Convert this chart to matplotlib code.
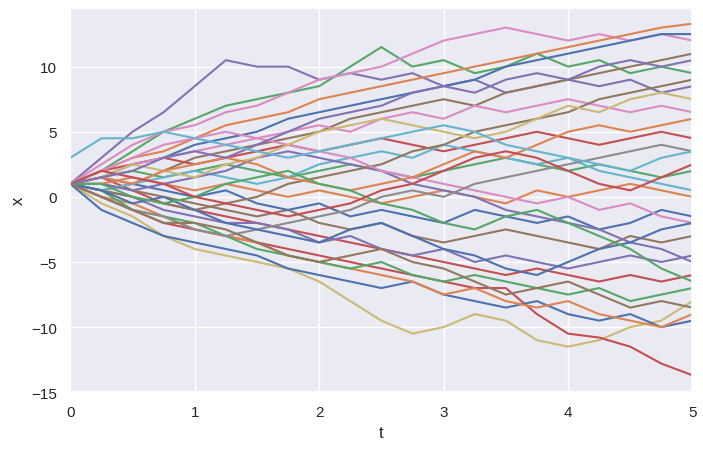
import numpy as np
import matplotlib
matplotlib.use("Agg")
import matplotlib.pyplot as plt
import seaborn as sns

# sample times (every 0.25 from 0 to 5)
t = [i * 0.25 for i in range(21)]

# paths (outer ones traced, inner ones estimated)
paths = [
    [1, 3, 5, 6.5, 8.5, 10.5, 10, 10, 9, 9.5, 9, 9.5, 8.5, 9, 8, 8.5, 9, 8.5, 9, 8, 8.5],
    [1, 2, 3.5, 5, 6, 7, 7.5, 8, 8.5, 10, 11.5, 10, 10.5, 9.5, 10, 11, 10, 10.5, 9.5, 10, 9.5],
    [1, 2.5, 4, 5, 5.5, 6.5, 7, 8, 9, 9.5, 10, 11, 12, 12.5, 13, 12.5, 12, 12.5, 12, 12.5, 12],
    [1, 2, 3, 3.5, 4.5, 5.5, 6, 6.5, 7.5, 8, 8.5, 9, 9.5, 10, 10.5, 11, 11.5, 12, 12.5, 13, 13.3],
    [1, 1.5, 2.5, 3, 4, 4.5, 5, 6, 6.5, 7, 7.5, 8, 8.5, 9, 10, 10.5, 11, 11.5, 12, 12.5, 12.5],
    [1, 0.5, 1, 2, 3, 3.5, 4, 4.5, 5, 6, 6.5, 7, 7.5, 7, 8, 8.5, 9, 9.5, 10, 10.5, 11],
    [1, -0.5, -1.5, -3, -4, -4.5, -5, -5.5, -6.5, -8, -9.5, -10.5, -10, -9, -9.5, -11, -11.5, -11, -10, -9.5, -8],
    [1, 0, -1, -2, -2.5, -3, -3.5, -4, -4.5, -5, -5.5, -6, -6.5, -7, -7, -9, -10.5, -10.8, -11.5, -12.8, -13.7],
    [1, -1, -2, -3, -3.5, -4, -4.5, -5.5, -6, -6.5, -7, -6.5, -7.5, -8, -8.5, -8, -9, -9.5, -9, -10, -9.5],
    [1, 0, -0.5, -1.5, -2.5, -3, -3.5, -4.5, -5, -5.5, -6, -6.5, -7.5, -7, -8, -8.5, -8, -9, -9.5, -10, -9],
    [1, 0.5, -1, -1.5, -2, -3, -4, -4.5, -5, -5.5, -5, -6, -6.5, -6, -6.5, -7, -7.5, -7, -8, -7.5, -7],
    [1, 1.5, 0.5, -0.5, -1, -1.5, -2, -2.5, -3, -3.5, -4, -4.5, -5, -5.5, -6, -5.5, -6, -6.5, -6, -6.5, -6],
    [1, 0.5, 0, -1, -1.5, -2, -2, -2.5, -3.5, -3, -4, -4.5, -4, -5, -4.5, -5, -5.5, -5, -4.5, -5, -4.5],
    [1, 1, 0.5, 0, -0.5, -1, -1.5, -1, -2, -2.5, -2, -3, -3.5, -3, -2.5, -3, -3.5, -4, -3, -3.5, -3],
    [1, 1.5, 1, 0.5, 0, 0.5, -0.5, -1, -0.5, -1.5, -1, -1.5, -2, -1, -1.5, -2, -1.5, -2.5, -2, -1, -1.5],
    [1, 1, 1.5, 1, 0.5, 1, 0.5, 0, 0.5, 0, -0.5, 0, 0.5, 0, -0.5, 0.5, 0, 0.5, 1, 0.5, 0],
    [1, 1.5, 2, 1.5, 2, 2.5, 2, 1.5, 2, 2.5, 2, 1.5, 2, 2.5, 3, 2.5, 2, 2.5, 2, 1.5, 2],
    [1, 2, 2.5, 3, 2.5, 3, 3.5, 4, 3.5, 4, 4.5, 4, 3.5, 4, 4.5, 5, 4.5, 4, 4.5, 5, 4.5],
    [1, 1.5, 2.5, 3, 3.5, 4, 4.5, 5, 5.5, 5, 6, 6.5, 6, 7, 6.5, 7, 7.5, 7, 6.5, 7, 6.5],
    [1, 0.5, 1, 1.5, 2, 1.5, 1, 1.5, 2.5, 3, 3.5, 3, 4, 3.5, 3, 2.5, 3, 2, 1.5, 1, 0.5],
    [1, 1, 0.5, 1, 1.5, 2, 3, 3.5, 3, 2.5, 2, 1, 0.5, 0, -1, -1.5, -2, -2.5, -3.5, -4, -5],
    [1, 0.5, 0, -0.5, -1, -0.5, 0, 1, 1.5, 2, 2.5, 3.5, 4, 5, 5.5, 6, 6.5, 7.5, 8, 8.5, 9],
    [1, 2, 3, 4, 4.5, 5, 4.5, 4, 3.5, 3, 2, 1.5, 1, 0.5, 0, -0.5, 0, -1, -0.5, -1.5, -2],
    [1, 0, -1, -1.5, -2.5, -3, -2.5, -2, -1.5, -1, 0, 0.5, 0, 1, 1.5, 2, 2.5, 3, 3.5, 4, 3.5],
    [1, 1.5, 2.5, 2, 1.5, 2.5, 3, 4, 5, 5.5, 6, 5.5, 5, 4.5, 5, 6, 7, 6.5, 7.5, 8, 7.5],
    [1, 0.5, -0.5, 0, -1, -2, -2.5, -3, -3.5, -2.5, -2, -3, -4, -4.5, -5.5, -6, -5, -4, -3.5, -2.5, -2],
    [1, 1.5, 1, 2, 2.5, 3, 2.5, 1.5, 1, 0.5, 1, 1.5, 2.5, 3.5, 3, 4, 5, 5.5, 5, 5.5, 6],
    [1, 1, 0, -0.5, 0, 1, 1.5, 2, 1, 0.5, -0.5, -1, -2, -2.5, -1.5, -1, -2, -3, -4, -5.5, -6.5],
    [1, 2, 1.5, 1, 0, -0.5, -1, -1.5, -1, -0.5, 0.5, 1, 2, 3, 3.5, 3, 2, 1, 0.5, 1.5, 2.5],
    [1, 1.5, 2, 3, 3.5, 3, 4, 5, 6, 6.5, 7, 8, 8.5, 8, 9, 9.5, 9, 10, 10.5, 10, 10.5],
    [3, 4.5, 4.5, 5, 4.5, 4, 3.5, 3, 3.5, 4, 4.5, 5, 5.5, 5, 4, 3.5, 3, 2.5, 2, 3, 3.5],
    [1, 0, -1, -2, -2, -2.5, -3.5, -4.5, -5, -4.5, -4, -5, -5.5, -6.5, -7.5, -7, -6.5, -7.5, -8.5, -8, -8.5],
]
# palette index of each path's colour, as seen in the reference
color_idx = [4, 2, 6, 1, 0, 5, 8, 3, 0, 1, 2, 3, 4, 5, 0, 1, 2, 3, 6, 9, 4, 5, 6, 7, 8, 0, 1, 2, 3, 4, 9, 5]

sns.set_theme(style="darkgrid")
plt.rcParams['font.family'] = ['Liberation Sans', 'DejaVu Sans']
palette = sns.color_palette()
fig, ax = plt.subplots(figsize=(7.03, 4.52), dpi=100)
for p, c in zip(paths, color_idx):
    ax.plot(t, p, color=palette[c])
ax.set_xlim(0, 5)
ax.set_ylim(-15, 14.5)
ax.set_xlabel("t")
ax.set_ylabel("x")
fig.subplots_adjust(left=0.1, right=0.985, top=0.98, bottom=0.13)
plt.savefig("out.png")
